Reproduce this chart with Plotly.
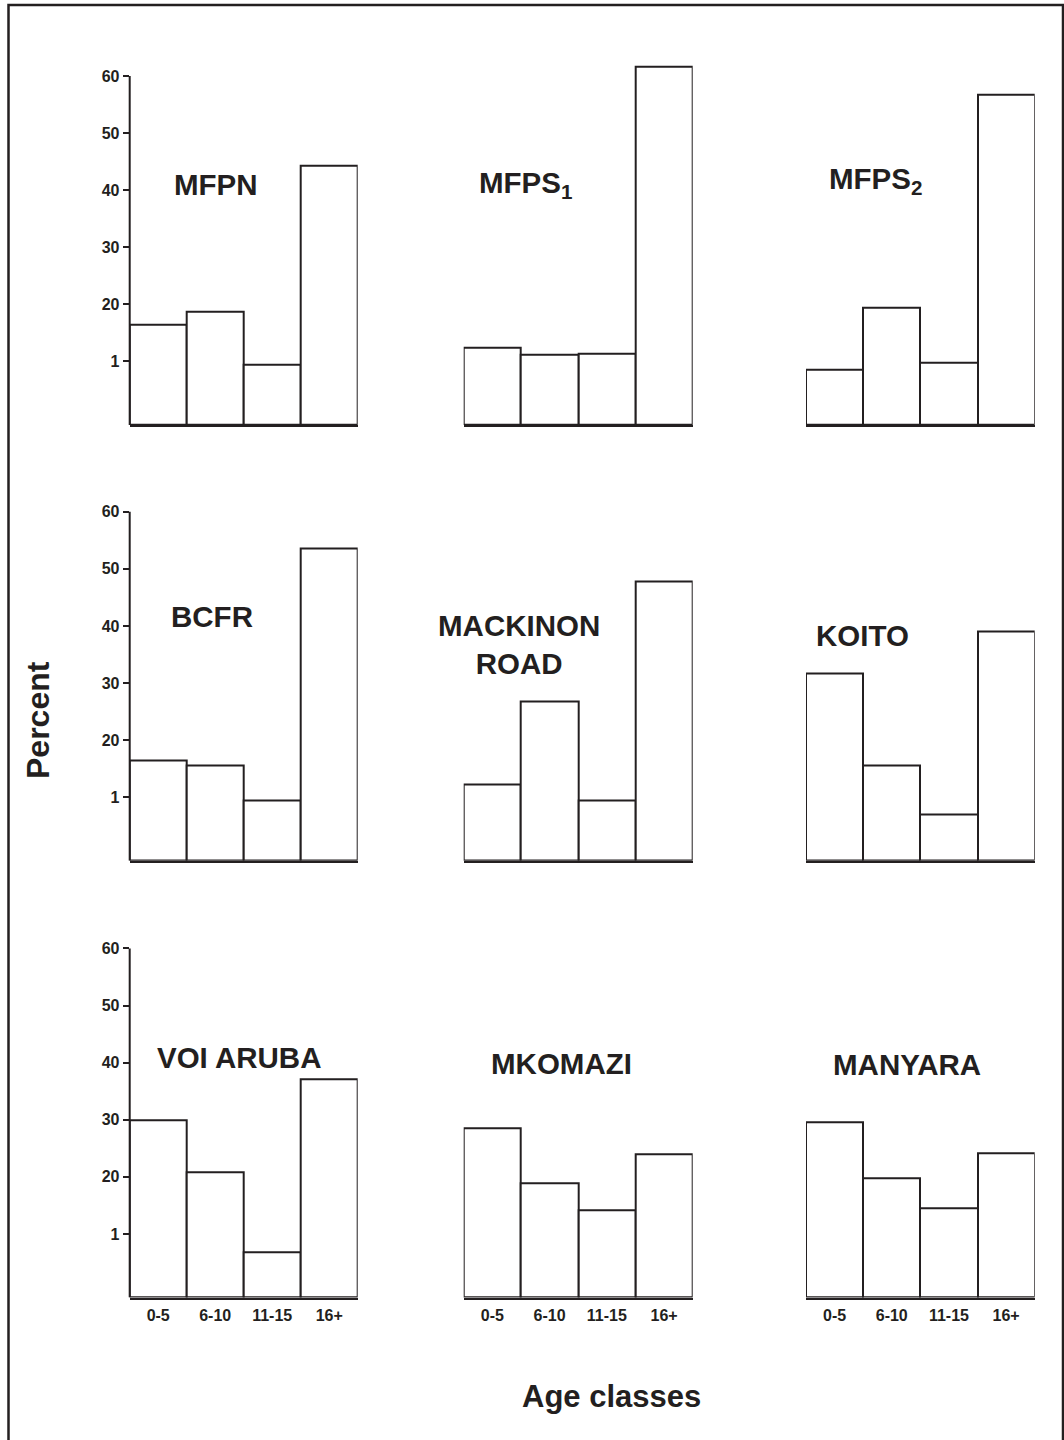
import plotly.graph_objects as go

# ---- data -------------------------------------------------------------
age_classes = ["0-5", "6-10", "11-15", "16+"]

site_names = [
    "MFPN", "MFPS<sub>1</sub>", "MFPS<sub>2</sub>",
    "BCFR", "MACKINON<br>ROAD", "KOITO",
    "VOI ARUBA", "MKOMAZI", "MANYARA",
]

mfpn = [16.5, 18.7, 9.35, 44.3]
mfps1 = [12.4, 11.1, 11.3, 61.6]
mfps2 = [8.5, 19.4, 9.8, 56.7]
bcfr = [16.5, 15.5, 9.35, 53.6]
mackinon_road = [12.3, 26.7, 9.5, 47.8]
koito = [31.6, 15.5, 7.0, 39.0]
voi_aruba = [29.9, 20.8, 6.8, 37.1]
mkomazi = [28.6, 18.9, 14.2, 24.0]
manyara = [29.6, 19.8, 14.5, 24.2]

site_values = [mfpn, mfps1, mfps2, bcfr, mackinon_road, koito,
               voi_aruba, mkomazi, manyara]

y_tick_vals = [10, 20, 30, 40, 50, 60]
y_tick_text = ["1", "20", "30", "40", "50", "60"]

# ---- layout geometry (pixels on a 1064 x 1440 page) ---------------------
W, H = 1064, 1440
INK = "#231f20"
FONT = "Liberation Sans"

COL_X = [(129.7, 357.7), (463.7, 692.7), (806.0, 1034.7)]
ROW_ZERO = [418.5, 854.3, 1291.0]
UNIT = 5.71                 # pixels per percent
Y_MIN, Y_MAX = -1.15, 62.5

TITLE_POS = [
    (216, 185), (525, 185), (875, 180),
    (212, 617), (519, 644), (862, 635),
    (239, 1057), (561, 1063), (907, 1064),
]
TITLE_SIZE = 29.5


def px_x(p):
    return p / W


def px_y(p):
    return 1 - p / H


fig = go.Figure()
layout = {}
shapes = []
annotations = []

for idx, (name, vals) in enumerate(zip(site_names, site_values)):
    r, c = divmod(idx, 3)
    n = idx + 1
    xa = "x" if n == 1 else f"x{n}"
    ya = "y" if n == 1 else f"y{n}"
    xkey = "xaxis" if n == 1 else f"xaxis{n}"
    ykey = "yaxis" if n == 1 else f"yaxis{n}"

    fig.add_trace(go.Bar(
        x=age_classes,
        y=[v - Y_MIN for v in vals],
        base=Y_MIN,
        width=1,
        marker=dict(color="white", line=dict(color=INK, width=2)),
        xaxis=xa, yaxis=ya,
        showlegend=False,
        hovertext=[f"{v}%" for v in vals],
        hoverinfo="x+text",
    ))

    x0, x1 = COL_X[c]
    bottom_px = ROW_ZERO[r] - Y_MIN * UNIT
    top_px = ROW_ZERO[r] - Y_MAX * UNIT

    layout[xkey] = dict(
        domain=[px_x(x0), px_x(x1)], range=[-0.5, 3.5], anchor=ya,
        type="category",
        showline=True, linewidth=2, linecolor=INK,
        showgrid=False, zeroline=False,
        showticklabels=(r == 2),
        ticks="outside" if r == 2 else "", ticklen=2,
        tickcolor="rgba(0,0,0,0)",
        tickfont=dict(family=FONT, size=16, color=INK, weight="bold"),
        fixedrange=True,
    )
    layout[ykey] = dict(
        domain=[px_y(bottom_px), px_y(top_px)], range=[Y_MIN, Y_MAX],
        anchor=xa,
        showline=False, showgrid=False, zeroline=False,
        tickvals=y_tick_vals, ticktext=y_tick_text,
        showticklabels=(c == 0),
        ticks="outside" if c == 0 else "", ticklen=6, tickwidth=2,
        tickcolor=INK,
        tickfont=dict(family=FONT, size=16, color=INK, weight="bold"),
        fixedrange=True,
    )

    if c == 0:
        # vertical axis line stops at the top tick
        shapes.append(dict(
            type="line", xref=f"{xa} domain", yref=ya,
            x0=0, x1=0, y0=Y_MIN, y1=60,
            line=dict(color=INK, width=2),
        ))

    tx, ty = TITLE_POS[idx]
    annotations.append(dict(
        text=name, xref="paper", yref="paper",
        x=px_x(tx), y=px_y(ty), xanchor="center", yanchor="middle",
        showarrow=False,
        font=dict(family=FONT, size=TITLE_SIZE, color=INK, weight="bold"),
    ))

# axis titles
annotations.append(dict(
    text="Percent", xref="paper", yref="paper",
    x=px_x(38), y=px_y(720), xanchor="center", yanchor="middle",
    textangle=-90, showarrow=False,
    font=dict(family=FONT, size=32, color=INK, weight="bold"),
))
annotations.append(dict(
    text="Age classes", xref="paper", yref="paper",
    x=px_x(611), y=px_y(1396), xanchor="center", yanchor="middle",
    showarrow=False,
    font=dict(family=FONT, size=31, color=INK, weight="bold"),
))

# outer frame
shapes.append(dict(
    type="rect", xref="paper", yref="paper",
    x0=px_x(8.5), x1=px_x(1063), y0=-0.05, y1=px_y(5),
    line=dict(color=INK, width=2.5), fillcolor="rgba(0,0,0,0)",
))

fig.update_layout(
    width=W, height=H,
    margin=dict(l=0, r=0, t=0, b=0),
    paper_bgcolor="white", plot_bgcolor="white",
    bargap=0,
    shapes=shapes, annotations=annotations,
    **layout,
)

fig.write_html("out.html")
